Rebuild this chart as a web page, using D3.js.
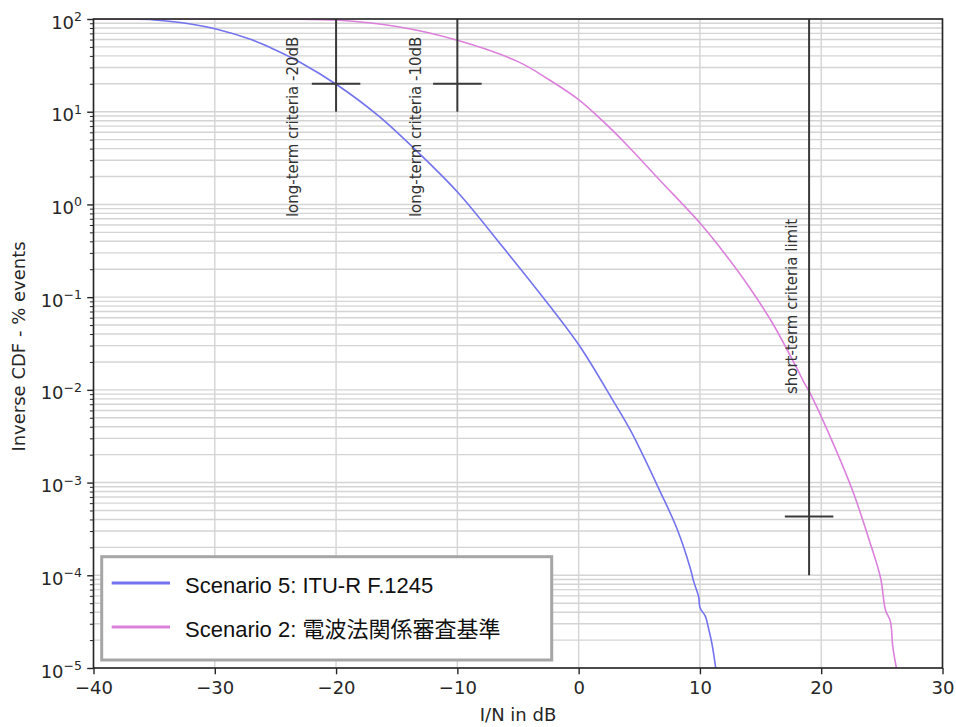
<!DOCTYPE html>
<html>
<head>
<meta charset="utf-8">
<script src="https://cdn.jsdelivr.net/npm/d3@7"></script>
<style>
  html, body { margin: 0; padding: 0; background: #fff; }
  svg { display: block; }
</style>
</head>
<body>
<svg id="chart" width="956" height="727"></svg>
<script>
// ---------------- data ----------------
const xTicks = [-40, -30, -20, -10, 0, 10, 20, 30];
const yExponents = [-5, -4, -3, -2, -1, 0, 1, 2];

const seriesNames = ["Scenario 5: ITU-R F.1245", "Scenario 2: 電波法関係審査基準"];
const seriesColors = ["#7373ef", "#dc80dc"];

// Scenario 5 (blue): I/N (dB) and inverse CDF (%)
const blueX = [-40, -37, -35, -32, -29.9, -27, -25.4, -22.9, -19.9, -16.5, -13, -9.9, -6.2, -2.3, 0.15, 2.8, 4.3, 6.7, 8.1, 9.2, 9.47, 9.9, 10.0, 10.45, 10.7, 11.0, 11.3];
const blueY = [100, 100, 97.7, 88.5, 78, 60, 49, 33.8, 19.4, 9.0, 3.4, 1.32, 0.34, 0.0776, 0.0288, 0.0078, 0.0036, 8.1e-4, 3.2e-4, 1.2e-4, 8.7e-5, 5.8e-5, 4.5e-5, 3.6e-5, 2.7e-5, 1.8e-5, 1e-5];

// Scenario 2 (magenta)
const magX = [-40, -26, -23, -20, -15, -10, -5, -2.5, 0, 2, 4, 6.7, 10, 12, 14, 16, 18, 18.5, 19.1, 20.9, 22.6, 24.0, 24.9, 25.3, 25.7, 25.9, 26.2];
const magY = [100, 100, 99.3, 97.5, 83, 59, 34.7, 22.4, 13.5, 7.9, 4.35, 1.82, 0.63, 0.30, 0.132, 0.052, 0.017, 0.0126, 0.0091, 0.0028, 8.1e-4, 2.3e-4, 9.3e-5, 4.2e-5, 3.2e-5, 1.7e-5, 1e-5];

// criteria markers
const criteriaLabels = ["long-term criteria -20dB", "long-term criteria -10dB", "short-term criteria limit"];
const criteriaX = [-20, -10, 19];
const criteriaTop = [100, 100, 100];
const criteriaBottom = [10, 10, 1e-4];
const criteriaMark = [20, 20, 4.3e-4];
const criteriaHalfWidth = [2, 2, 2];
const criteriaLabelX = [-23.1, -13.0, 18.0];
const criteriaLabelY = [0.73, 0.73, 0.009];

// ---------------- drawing ----------------
(function draw() {
  const W = 956, H = 727;
  const pL = 93.5, pR = 942.5, pT = 19, pB = 668;
  const svg = d3.select("#chart");
  svg.append("rect").attr("width", W).attr("height", H).attr("fill", "#fff");

  const x = d3.scaleLinear().domain([-40, 30]).range([pL, pR]);
  const y = d3.scaleLog().domain([1e-5, 1e2]).range([pB, pT]);

  const majorY = yExponents.map(e => Math.pow(10, e));
  const minorY = [];
  yExponents.slice(0, -1).forEach(e => { for (let k = 2; k <= 9; k++) minorY.push(k * Math.pow(10, e)); });

  const gridColor = "#d4d4d4";
  const axisFont = "DejaVu Sans, sans-serif";
  const ink = "#262626";

  // grid
  const grid = svg.append("g");
  grid.selectAll("line.h").data(majorY.concat(minorY)).enter().append("line")
    .attr("class", "h")
    .attr("x1", pL).attr("x2", pR)
    .attr("y1", d => y(d)).attr("y2", d => y(d))
    .attr("stroke", gridColor).attr("stroke-width", 1.4);
  grid.selectAll("line.v").data(xTicks).enter().append("line")
    .attr("class", "v")
    .attr("y1", pT).attr("y2", pB)
    .attr("x1", d => x(d)).attr("x2", d => x(d))
    .attr("stroke", gridColor).attr("stroke-width", 1.4);

  // clip
  svg.append("clipPath").attr("id", "clip").append("rect")
    .attr("x", pL).attr("y", pT).attr("width", pR - pL).attr("height", pB - pT);

  const line = d3.line().x(d => x(d[0])).y(d => y(d[1])).curve(d3.curveCatmullRom.alpha(0.5));
  const series = [d3.zip(blueX, blueY), d3.zip(magX, magY)];
  svg.append("g").attr("clip-path", "url(#clip)")
    .selectAll("path").data(series).enter().append("path")
    .attr("d", line)
    .attr("fill", "none")
    .attr("stroke", (d, i) => seriesColors[i])
    .attr("stroke-width", 1.6);

  // criteria
  const crit = svg.append("g");
  criteriaX.forEach((cx, i) => {
    crit.append("line")
      .attr("x1", x(cx)).attr("x2", x(cx))
      .attr("y1", y(criteriaTop[i])).attr("y2", y(criteriaBottom[i]))
      .attr("stroke", "#3a3a3a").attr("stroke-width", 2);
    crit.append("line")
      .attr("x1", x(cx - criteriaHalfWidth[i])).attr("x2", x(cx + criteriaHalfWidth[i]))
      .attr("y1", y(criteriaMark[i])).attr("y2", y(criteriaMark[i]))
      .attr("stroke", "#3a3a3a").attr("stroke-width", 2);
    const lx = x(criteriaLabelX[i]), ly = y(criteriaLabelY[i]);
    crit.append("text")
      .attr("transform", `translate(${lx},${ly}) rotate(-90)`)
      .attr("text-anchor", "start")
      .attr("font-family", axisFont).attr("font-size", 15)
      .attr("fill", "#333")
      .text(criteriaLabels[i]);
  });

  // frame
  svg.append("rect").attr("x", pL).attr("y", pT)
    .attr("width", pR - pL).attr("height", pB - pT)
    .attr("fill", "none").attr("stroke", ink).attr("stroke-width", 1.6);

  // x axis
  const xAxis = d3.axisBottom(x).tickValues(xTicks).tickSize(6.3).tickPadding(7)
    .tickFormat(d => (d < 0 ? "\u2212" + Math.abs(d) : String(d)));
  const gx = svg.append("g").attr("transform", `translate(0,${pB})`).call(xAxis);
  gx.select(".domain").remove();
  gx.selectAll(".tick line").attr("stroke", ink).attr("stroke-width", 1.4);
  gx.selectAll(".tick text").attr("font-family", axisFont).attr("font-size", 18).attr("fill", ink);

  // y axis ticks (major + minor)
  const yAxisMajor = d3.axisLeft(y).tickValues(majorY).tickSize(6.3).tickFormat("");
  const gyM = svg.append("g").attr("transform", `translate(${pL},0)`).call(yAxisMajor);
  gyM.select(".domain").remove();
  gyM.selectAll(".tick line").attr("stroke", ink).attr("stroke-width", 1.4);
  const yAxisMinor = d3.axisLeft(y).tickValues(minorY).tickSize(3.6).tickFormat("");
  const gym = svg.append("g").attr("transform", `translate(${pL},0)`).call(yAxisMinor);
  gym.select(".domain").remove();
  gym.selectAll(".tick line").attr("stroke", ink).attr("stroke-width", 1);

  // y tick labels with superscripts
  const ylab = svg.append("g");
  yExponents.forEach(e => {
    const t = ylab.append("text")
      .attr("x", 82).attr("y", y(Math.pow(10, e)) + 9.5)
      .attr("text-anchor", "end")
      .attr("font-family", axisFont).attr("font-size", 18).attr("fill", ink);
    t.append("tspan").text("10");
    t.append("tspan").attr("dy", -7.5).attr("font-size", 12.5)
      .text(e < 0 ? "\u2212" + Math.abs(e) : String(e));
  });

  // axis titles
  svg.append("text").attr("x", (pL + pR) / 2).attr("y", 721)
    .attr("text-anchor", "middle").attr("font-family", axisFont).attr("font-size", 18)
    .attr("fill", ink).text("I/N in dB");
  svg.append("text").attr("transform", `translate(25,${(pT + pB) / 2 + 3}) rotate(-90)`)
    .attr("text-anchor", "middle").attr("font-family", axisFont).attr("font-size", 18)
    .attr("fill", ink).text("Inverse CDF - % events");

  // legend
  const lg = svg.append("g");
  lg.append("rect").attr("x", 101.7).attr("y", 556.7).attr("width", 450).attr("height", 103.3)
    .attr("fill", "#fff").attr("stroke", "#a6a6a6").attr("stroke-width", 3);
  const legendRowY = [583, 627];
  seriesNames.forEach((name, i) => {
    lg.append("line").attr("x1", 111.7).attr("x2", 170)
      .attr("y1", legendRowY[i]).attr("y2", legendRowY[i])
      .attr("stroke", seriesColors[i]).attr("stroke-width", 3);
    lg.append("text").attr("x", 185).attr("y", legendRowY[i] + 9.5)
      .attr("font-family", "'Liberation Sans', 'Noto Sans CJK JP', sans-serif")
      .attr("font-size", 22).attr("fill", "#111")
      .text(name);
  });
})();
</script>
</body>
</html>
